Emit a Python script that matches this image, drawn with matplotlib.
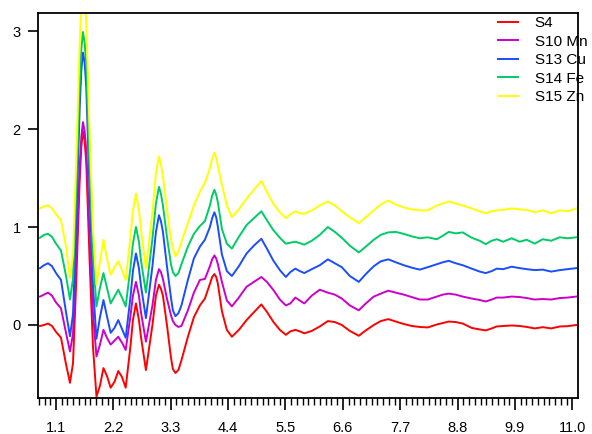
import matplotlib
matplotlib.use("Agg")
import matplotlib.pyplot as plt
from matplotlib.ticker import MultipleLocator, FormatStrFormatter

plt.rcParams['font.family'] = ['Liberation Sans', 'DejaVu Sans']

# energy axis
x = [0.793, 0.870, 0.947, 1.023, 1.100, 1.196, 1.292, 1.368, 1.426, 1.489,
     1.554, 1.586, 1.617, 1.649, 1.681, 1.746, 1.809, 1.876, 1.943, 2.010,
     2.077, 2.148, 2.221, 2.294, 2.365, 2.436, 2.527, 2.575, 2.633, 2.690,
     2.729, 2.824, 2.949, 3.016, 3.074, 3.112, 3.150, 3.227, 3.304, 3.341,
     3.390, 3.447, 3.505, 3.629, 3.744, 3.859, 3.955, 4.051, 4.094, 4.137,
     4.171, 4.204, 4.281, 4.376, 4.472, 4.606, 4.754, 4.894, 5.037, 5.143,
     5.264, 5.392, 5.507, 5.593, 5.689, 5.775, 5.861, 6.005, 6.158, 6.312,
     6.446, 6.580, 6.733, 6.906, 7.040, 7.193, 7.327, 7.471, 7.615, 7.768,
     7.921, 8.075, 8.228, 8.400, 8.515, 8.630, 8.764, 8.898, 9.071, 9.224,
     9.339, 9.454, 9.550, 9.674, 9.837, 9.991, 10.125, 10.278, 10.431, 10.594,
     10.757, 10.910, 11.073]

s4 = [-0.01, 0.00, 0.015, -0.01, -0.07, -0.13, -0.40, -0.59, -0.39, 0.46,
      1.48, 1.82, 1.98, 1.88, 1.65, 0.63, -0.22, -0.73, -0.62, -0.44,
      -0.52, -0.64, -0.58, -0.47, -0.53, -0.64, -0.22, 0.05, 0.22, 0.05,
      -0.12, -0.46, 0.00, 0.30, 0.41, 0.37, 0.30, 0.00, -0.33, -0.45,
      -0.49, -0.46, -0.36, -0.12, 0.08, 0.20, 0.27, 0.42, 0.49, 0.52,
      0.49, 0.42, 0.14, -0.05, -0.12, -0.05, 0.05, 0.13, 0.21, 0.135,
      0.035, -0.05, -0.10, -0.065, -0.05, -0.065, -0.085, -0.06, -0.015, 0.04,
      0.03, 0.00, -0.06, -0.11, -0.055, 0.00, 0.04, 0.06, 0.035, 0.01,
      -0.01, -0.02, -0.025, 0.005, 0.02, 0.035, 0.03, 0.015, -0.03, -0.045,
      -0.055, -0.035, -0.015, -0.01, -0.005, -0.01, -0.02, -0.035, -0.022, -0.035,
      -0.015, -0.012, 0.00]

s10_mn = [0.29, 0.31, 0.33, 0.30, 0.23, 0.17, -0.08, -0.27, -0.09, 0.69,
          1.61, 1.92, 2.07, 1.98, 1.78, 0.88, 0.12, -0.32, -0.20, -0.05,
          -0.13, -0.20, -0.16, -0.12, -0.18, -0.255, 0.09, 0.30, 0.44, 0.30,
          0.13, -0.17, 0.20, 0.46, 0.57, 0.54, 0.47, 0.27, 0.10, 0.04,
          0.00, -0.02, -0.01, 0.15, 0.33, 0.46, 0.47, 0.60, 0.67, 0.71,
          0.68, 0.62, 0.44, 0.25, 0.19, 0.28, 0.39, 0.44, 0.49, 0.44,
          0.36, 0.26, 0.20, 0.22, 0.28, 0.25, 0.22, 0.30, 0.36, 0.33,
          0.31, 0.27, 0.20, 0.15, 0.22, 0.29, 0.32, 0.35, 0.33, 0.31,
          0.285, 0.26, 0.26, 0.29, 0.31, 0.32, 0.31, 0.29, 0.27, 0.255,
          0.24, 0.26, 0.28, 0.28, 0.29, 0.285, 0.275, 0.26, 0.265, 0.26,
          0.275, 0.28, 0.29]

s13_cu = [0.58, 0.61, 0.63, 0.60, 0.53, 0.46, 0.13, -0.115, 0.11, 1.07,
          2.21, 2.60, 2.78, 2.68, 2.42, 1.32, 0.40, -0.14, 0.08, 0.255,
          0.09, -0.08, -0.03, 0.05, -0.04, -0.13, 0.28, 0.55, 0.73, 0.58,
          0.40, 0.07, 0.60, 0.95, 1.12, 1.06, 0.95, 0.60, 0.28, 0.15,
          0.09, 0.12, 0.20, 0.46, 0.68, 0.80, 0.87, 1.00, 1.09, 1.15,
          1.10, 1.00, 0.72, 0.55, 0.50, 0.60, 0.73, 0.81, 0.88, 0.78,
          0.66, 0.56, 0.49, 0.54, 0.575, 0.55, 0.53, 0.57, 0.61, 0.67,
          0.63, 0.59, 0.50, 0.44, 0.52, 0.60, 0.65, 0.67, 0.64, 0.61,
          0.585, 0.565, 0.59, 0.62, 0.64, 0.655, 0.63, 0.61, 0.575, 0.545,
          0.53, 0.55, 0.575, 0.57, 0.595, 0.58, 0.57, 0.56, 0.565, 0.545,
          0.56, 0.57, 0.58]

s14_fe = [0.89, 0.92, 0.93, 0.90, 0.83, 0.76, 0.50, 0.26, 0.47, 1.38,
          2.46, 2.82, 2.99, 2.88, 2.65, 1.59, 0.71, 0.19, 0.38, 0.53,
          0.38, 0.22, 0.29, 0.36, 0.28, 0.19, 0.58, 0.83, 1.00, 0.85,
          0.66, 0.33, 0.88, 1.24, 1.41, 1.34, 1.22, 0.90, 0.62, 0.54,
          0.50, 0.53, 0.62, 0.80, 0.93, 1.01, 1.06, 1.22, 1.32, 1.38,
          1.33, 1.25, 0.98, 0.83, 0.78, 0.90, 1.02, 1.09, 1.16, 1.07,
          0.97, 0.89, 0.83, 0.84, 0.85, 0.835, 0.82, 0.86, 0.92, 1.00,
          0.95, 0.89, 0.81, 0.74, 0.80, 0.87, 0.92, 0.945, 0.95, 0.93,
          0.905, 0.885, 0.895, 0.875, 0.91, 0.95, 0.935, 0.945, 0.89, 0.86,
          0.825, 0.86, 0.875, 0.85, 0.885, 0.85, 0.87, 0.83, 0.875, 0.86,
          0.895, 0.885, 0.895]

s15_zn = [1.19, 1.21, 1.22, 1.19, 1.13, 1.07, 0.80, 0.48, 0.71, 1.69,
          2.87, 3.27, 3.45, 3.35, 3.08, 1.93, 0.97, 0.41, 0.65, 0.87,
          0.68, 0.51, 0.59, 0.65, 0.56, 0.46, 0.90, 1.17, 1.34, 1.18,
          0.98, 0.58, 1.15, 1.55, 1.72, 1.64, 1.52, 1.18, 0.88, 0.78,
          0.70, 0.75, 0.85, 1.04, 1.22, 1.36, 1.45, 1.60, 1.70, 1.76,
          1.71, 1.62, 1.43, 1.22, 1.10, 1.18, 1.29, 1.38, 1.47, 1.36,
          1.24, 1.15, 1.09, 1.13, 1.16, 1.14, 1.135, 1.17, 1.22, 1.26,
          1.22, 1.16, 1.10, 1.04, 1.10, 1.17, 1.23, 1.27, 1.23, 1.20,
          1.18, 1.17, 1.17, 1.22, 1.24, 1.26, 1.24, 1.22, 1.19, 1.16,
          1.14, 1.16, 1.17, 1.175, 1.19, 1.18, 1.175, 1.15, 1.17, 1.14,
          1.17, 1.16, 1.19]

labels = ['S4', 'S10 Mn', 'S13 Cu', 'S14 Fe', 'S15 Zn']
colors = ['#ff0000', '#cc00cc', '#1a4dff', '#00cc66', '#ffff00']
series = [s4, s10_mn, s13_cu, s14_fe, s15_zn]

fig = plt.figure(figsize=(5.92, 4.34), dpi=100)
ax = fig.add_axes([38 / 592, 1 - 398 / 434, 540 / 592, 385 / 434])

for ys, lab, col in zip(series, labels, colors):
    ax.plot(x, ys, color=col, lw=1.4, label=lab)

ax.set_xlim(0.755, 11.108)
ax.set_ylim(-0.745, 3.184)

ax.xaxis.set_major_locator(MultipleLocator(1.1))
ax.xaxis.set_minor_locator(MultipleLocator(0.11))
ax.xaxis.set_major_formatter(FormatStrFormatter('%.1f'))
ax.set_yticks([0, 1, 2, 3])

ax.tick_params(axis='x', which='major', direction='out', length=8.5, width=1.2,
               pad=8, labelsize=10.5)
ax.tick_params(axis='x', which='minor', direction='out', length=5, width=1.0)
ax.tick_params(axis='y', which='major', direction='out', length=7.5, width=1.2,
               pad=5, labelsize=10.5)
for sp in ax.spines.values():
    sp.set_linewidth(1.3)

ax.legend(loc='upper left', bbox_to_anchor=(498 / 592, 1 - 16 / 434),
          bbox_transform=fig.transFigure, frameon=False, fontsize=11,
          borderpad=0, borderaxespad=0, handlelength=1.3, handletextpad=1.1,
          labelspacing=0.3)

fig.savefig('out.png', dpi=100)
